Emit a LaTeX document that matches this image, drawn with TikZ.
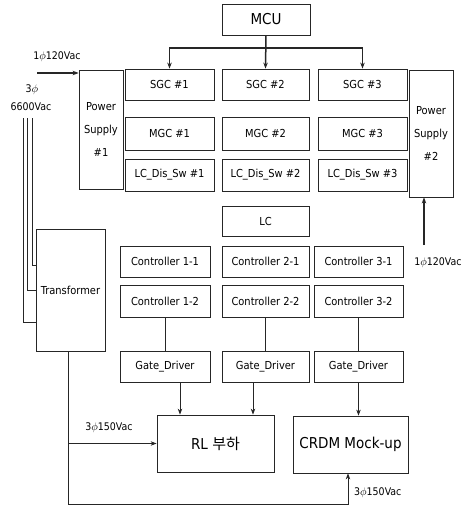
\documentclass[tikz,border=0pt]{standalone}
\usepackage{fontspec}
\setmainfont{DejaVu Sans Condensed}
\newfontfamily\kofont{Noto Sans CJK KR}
\usetikzlibrary{arrows.meta,calc}

\begin{document}
\begin{tikzpicture}[x=1pt,y=-1pt,>={Stealth[length=6pt,width=4.5pt]},
  box/.style 2 args={draw=black!85,line width=0.8pt,inner sep=0pt,minimum width=#1,minimum height=#2,font=\fontsize{11}{13}\selectfont},
  psbox/.style={box={44pt}{#1},align=center,font=\fontsize{11}{23}\selectfont},
  bigbox/.style={font=\fontsize{15}{17}\selectfont},
  lbl/.style={inner sep=0pt,font=\fontsize{10.5}{12}\selectfont},
  wire/.style={line width=0.8pt,black!85},
  bus/.style={line width=1.5pt,black!85}]
  \useasboundingbox (0,0) rectangle (461,509);

  % top part
  \node[box={88pt}{31pt},bigbox] (mcu) at (266,19.5) {MCU};
  \foreach \n/\x/\w in {1/169.5/89, 2/265.5/87, 3/362.5/89}{
    \node[box={\w pt}{31pt}] (sgc\n) at (\x,84.5) {SGC \#\n};
    \node[box={\w pt}{33pt}] (mgc\n) at (\x,133.5) {MGC \#\n};
    \node[box={\w pt}{32pt}] (lcsw\n) at (\x,175) {LC\_Dis\_Sw \#\n};
  }
  \node[psbox=119pt] (ps1) at (101,129.5) {Power\\Supply\\\#1};
  \node[psbox=127pt] (ps2) at (431,133.5) {Power\\Supply\\\#2};

  \coordinate (bus) at (266,48);
  \draw[bus,->] (mcu.south) -- (sgc2.north);
  \draw[bus,->] (bus) -| (sgc1.north);
  \draw[bus,->] (bus) -| (sgc3.north);

  % supplies
  \coordinate (in1) at (37,73);
  \draw[bus,->] (in1) -- (in1 -| ps1.west);
  \node[lbl] (v1) at (57,57) {1$\phi$120Vac};
  \coordinate (in2) at (424,245);
  \draw[bus,->] (in2) -- (in2 |- ps2.south);
  \node[lbl] (v2) at (438,263) {1$\phi$120Vac};

  % LC part
  \node[box={87pt}{30pt}] (lc) at (265.5,221) {LC};
  \foreach \n/\x/\w in {1/165/90, 2/265.5/87, 3/358.5/89}{
    \node[box={\w pt}{31pt}] (c\n1) at (\x,261.5) {Controller \n-1};
    \node[box={\w pt}{32pt}] (c\n2) at (\x,301) {Controller \n-2};
    \node[box={\w pt}{31pt}] (g\n) at (\x,366.5) {Gate\_Driver};
    \draw[wire] (c\n2.south) -- (g\n.north);
  }

  \node[box={69pt}{122pt}] (tr) at (70.5,290) {Transformer};
  \node[box={117pt}{57pt},bigbox] (rl) at (215.5,443.5) {RL {\kofont 부하}};
  \node[box={115pt}{57pt},bigbox] (crdm) at (350.5,444.5) {CRDM Mock-up};

  % 3 phase input
  \node[lbl] (ph) at (32,90) {3$\phi$};
  \node[lbl] (v3) at (31,107) {6600Vac};
  \coordinate (l1) at (23,118);
  \coordinate (l2) at (27,118);
  \coordinate (l3) at (32,118);
  \draw[wire] (l1) |- ($(tr.west)+(0,32)$);
  \draw[wire] (l2) |- (tr.west);
  \draw[wire] (l3) |- ($(tr.west)+(0,-25)$);

  % load feeds
  \draw[wire,->] ([xshift=15pt]g1.south) -- ([xshift=15pt]g1.south |- rl.north);
  \draw[wire,->] ([xshift=-12.5pt]g2.south) -- ([xshift=-12.5pt]g2.south |- rl.north);
  \draw[wire,->] (g3.south) -- (g3.south |- crdm.north);
  \draw[wire,->] ([xshift=-2.5pt]tr.south) -- ++(0,153) -| ([xshift=-2.5pt]crdm.south);
  \draw[wire,->] ([xshift=-2.5pt]tr.south |- rl.west) -- (rl.west);
  \node[lbl] (v4) at (109,428) {3$\phi$150Vac};
  \node[lbl,anchor=west] (v5) at (354,493) {3$\phi$150Vac};
\end{tikzpicture}
\end{document}
